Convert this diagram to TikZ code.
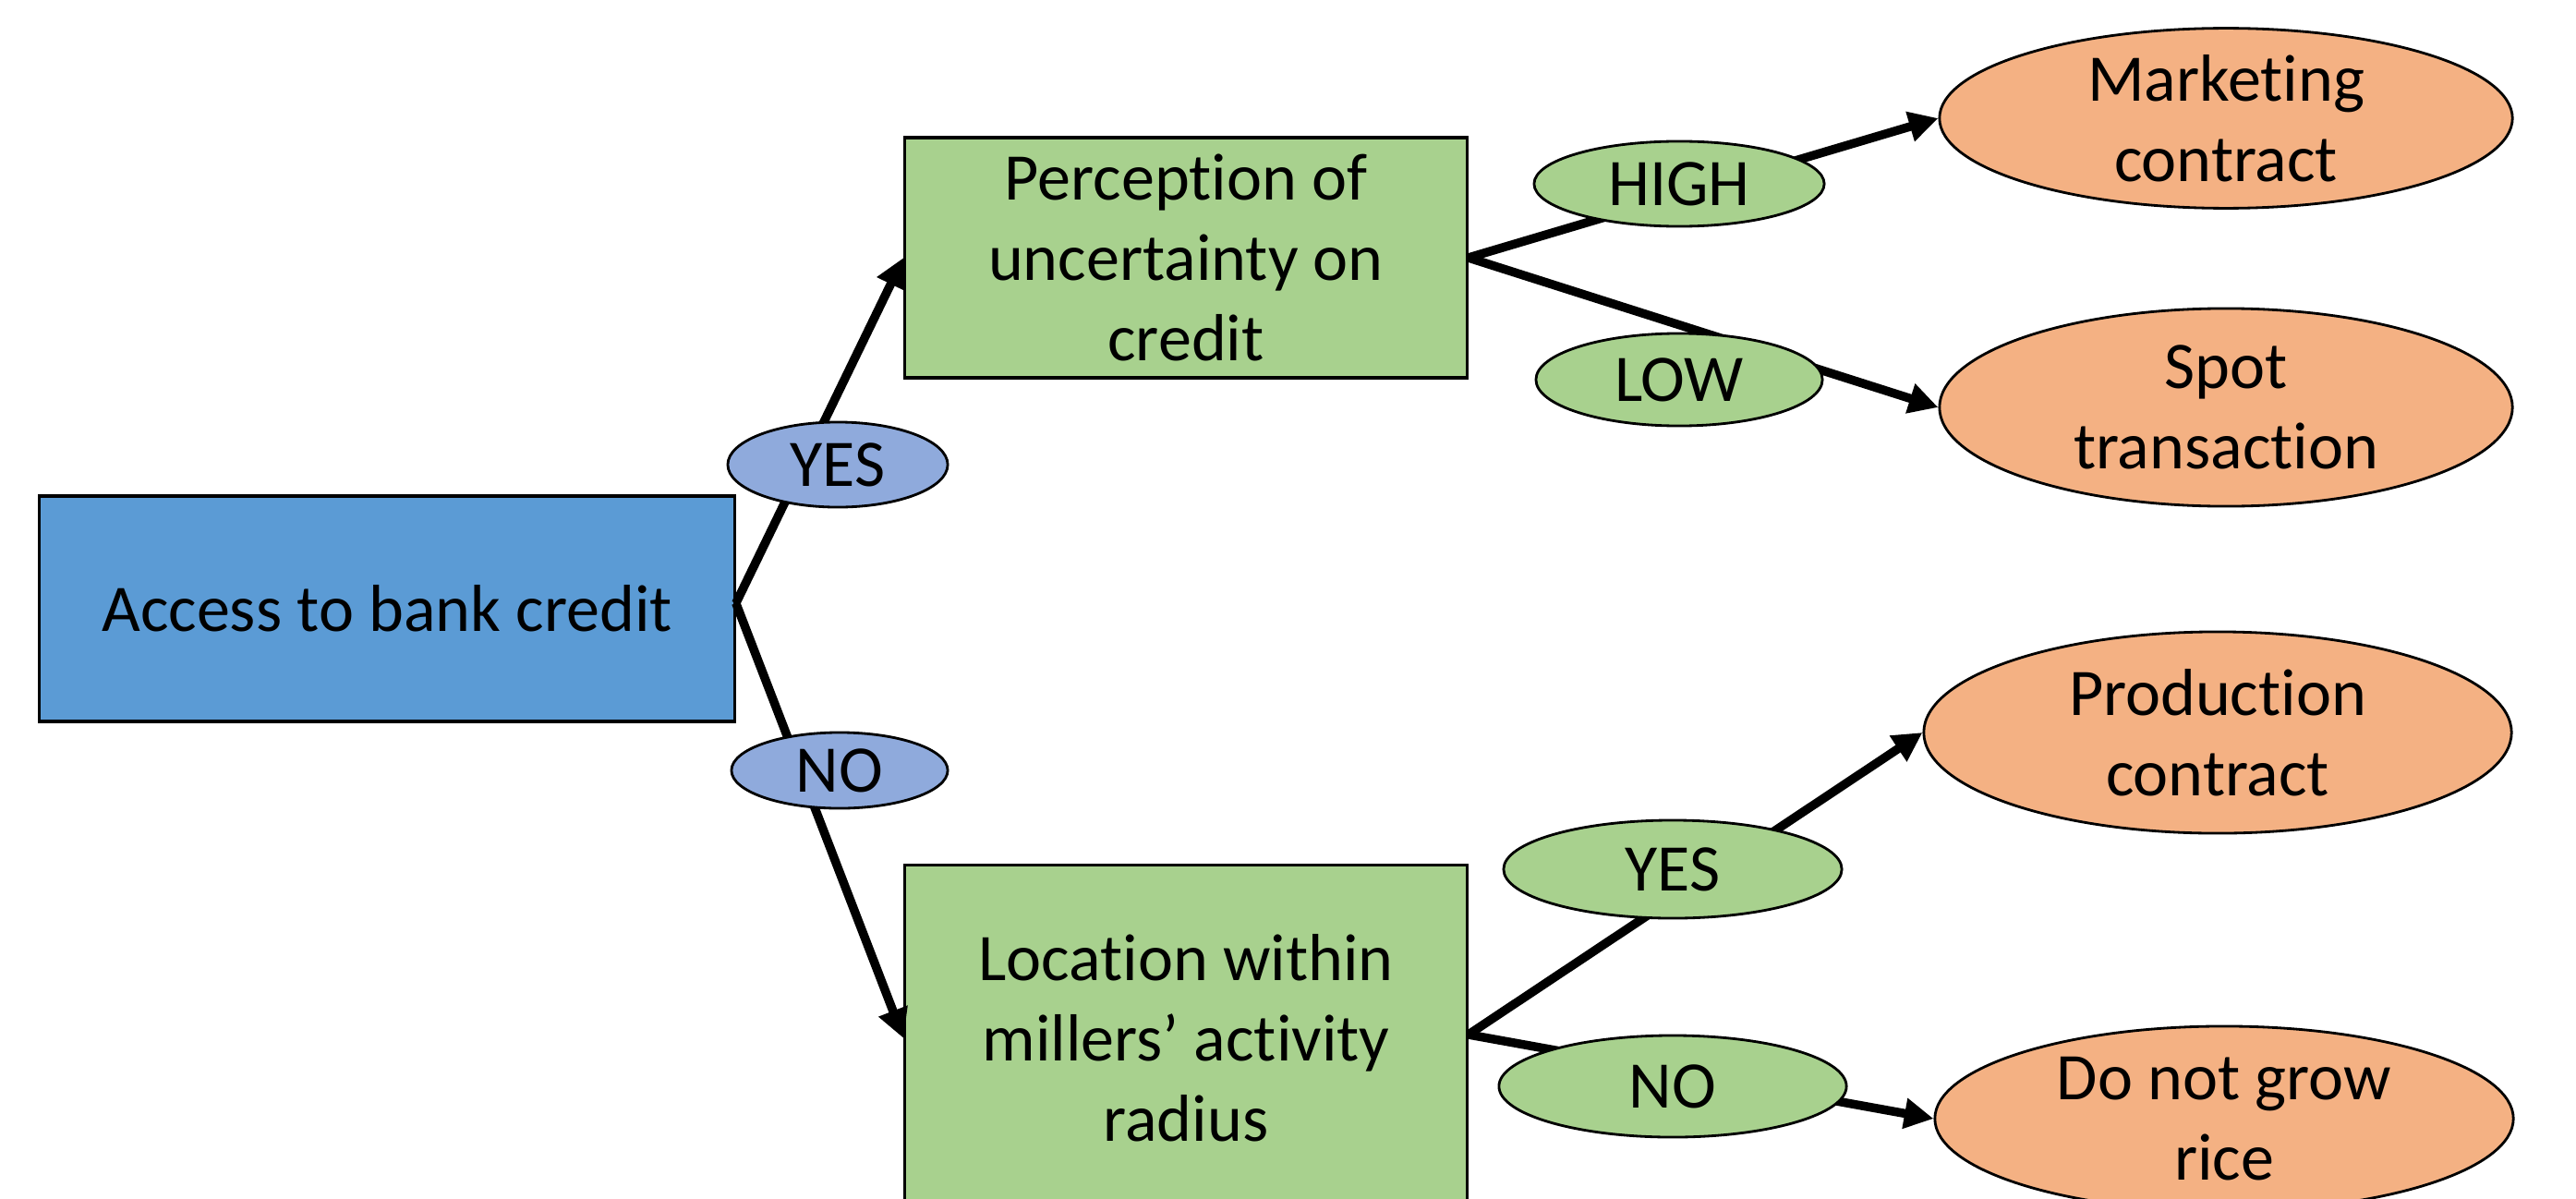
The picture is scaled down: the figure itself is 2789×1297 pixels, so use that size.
\documentclass[tikz,border=0pt]{standalone}
\usepackage{fontspec}
\setmainfont[Ligatures=NoCommon]{Carlito}
\usetikzlibrary{arrows.meta,shapes.geometric}
\definecolor{bluebox}{RGB}{91,155,213}
\definecolor{greenbox}{RGB}{168,209,142}
\definecolor{blueell}{RGB}{143,170,220}
\definecolor{orangeell}{RGB}{244,177,131}
\tikzset{
  rectbox/.style={draw=black, line width=0.9pt, inner sep=0pt, align=center, font=\fontsize{20.5}{24.8}\selectfont},
  ellbox/.style={ellipse, draw=black, line width=0.8pt, inner sep=0pt, align=center, font=\fontsize{20.5}{24.8}\selectfont},
  conn/.style={draw=black, line width=2.7pt, -{Triangle[length=9pt,width=9pt]}}
}
\begin{document}
\begin{tikzpicture}[x=0.01cm,y=-0.01cm]
\useasboundingbox (0,0) rectangle (2789,1297);
\clip (0,0) rectangle (2789,1297);
\fill[white] (0,0) rectangle (2789,1297);
% main boxes
\node[rectbox, fill=bluebox, minimum width=7.52cm, minimum height=2.44cm] (access) at (419,659) {Access to bank credit};
\node[rectbox, fill=greenbox, minimum width=6.08cm, minimum height=2.60cm] (perc) at (1284,279) {Perception of\\uncertainty on\\credit};
\node[rectbox, fill=greenbox, minimum width=6.08cm, minimum height=3.74cm] (loc) at (1284,1124) {Location within\\millers’ activity\\radius};
% outcomes
\node[ellbox, fill=orangeell, minimum width=6.20cm, minimum height=1.90cm] (mkt) at (2410,128) {Marketing\\contract};
\node[ellbox, fill=orangeell, minimum width=6.20cm, minimum height=2.14cm] (spot) at (2410,441) {Spot\\transaction};
\node[ellbox, fill=orangeell, minimum width=6.36cm, minimum height=2.18cm] (prod) at (2401,793) {Production\\contract};
\node[ellbox, fill=orangeell, minimum width=6.26cm, minimum height=2.00cm] (rice) at (2408,1211) {Do not grow\\rice};
% connector start points
\coordinate (av) at ([yshift=0.06cm]access.east);
\coordinate (lv) at ([yshift=0.04cm]loc.east);
% connectors
\draw[conn] (av) -- (perc.west);
\draw[conn] (av) -- (loc.west);
\draw[conn] (perc.east) -- (mkt.west);
\draw[conn] (perc.east) -- (spot.west);
\draw[conn] (lv) -- (prod.west);
\draw[conn] (lv) -- (rice.west);
% labels
\node[ellbox, fill=blueell, minimum width=2.38cm, minimum height=0.92cm] (yes1) at (907,503) {YES};
\node[ellbox, fill=blueell, minimum width=2.34cm, minimum height=0.82cm] (no1) at (909,834) {NO};
\node[ellbox, fill=greenbox, minimum width=3.14cm, minimum height=0.92cm] (high) at (1818,199) {HIGH};
\node[ellbox, fill=greenbox, minimum width=3.10cm, minimum height=1.00cm] (low) at (1818,411) {LOW};
\node[ellbox, fill=greenbox, minimum width=3.66cm, minimum height=1.06cm] (yes2) at (1811,941) {YES};
\node[ellbox, fill=greenbox, minimum width=3.76cm, minimum height=1.10cm] (no2) at (1811,1176) {NO};
\end{tikzpicture}
\end{document}
